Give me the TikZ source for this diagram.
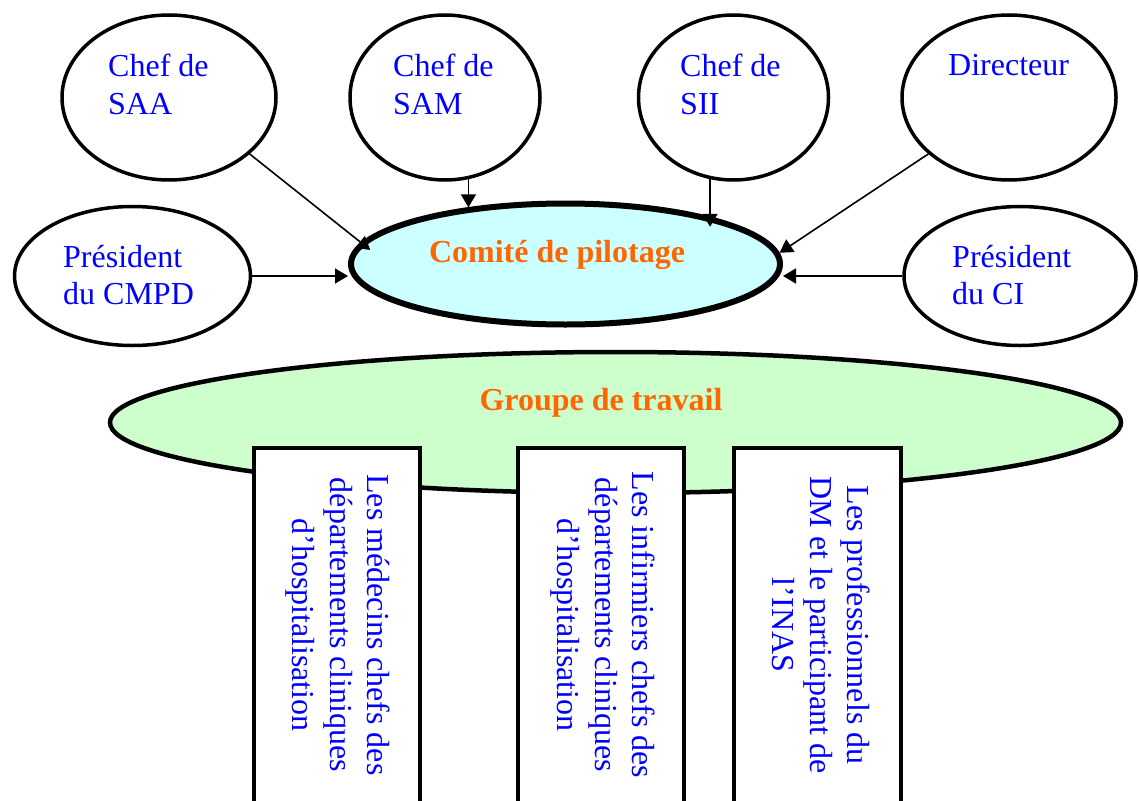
\documentclass[tikz,border=0pt]{standalone}
\usepackage{fontspec}
\setmainfont{Liberation Serif}
\usetikzlibrary{shapes.geometric,arrows.meta}
\definecolor{txtblue}{RGB}{0,0,255}
\definecolor{headorange}{RGB}{255,102,0}
\definecolor{pilotfill}{RGB}{204,255,255}
\definecolor{groupfill}{RGB}{204,255,204}
\begin{document}
\begin{tikzpicture}[x=1pt,y=-1pt,
  member/.style={ellipse, draw, line width=3.5pt, fill=white, inner sep=0pt},
  roletext/.style={text=txtblue, font=\fontsize{32}{37.5}\selectfont,
    align=left, inner sep=0pt, anchor=north west},
  boxtext/.style={text=txtblue, font=\fontsize{32}{37.5}\selectfont,
    align=center, inner sep=0pt, rotate=-90},
  headtext/.style={text=headorange, font=\bfseries\fontsize{32}{37.5}\selectfont,
    inner sep=0pt, anchor=base},
  team/.style={draw, line width=4pt, fill=white, inner sep=0pt, anchor=north},
  feed/.style={line width=1.6pt, -{Triangle[length=13pt,width=15pt]}}
]
\useasboundingbox (0,0) rectangle (1139,800);
\clip (0,0) rectangle (1139,800);

% working group and its three teams
\node[ellipse, draw, line width=4.5pt, fill=groupfill, inner sep=0pt,
      minimum width=1011pt, minimum height=141pt] (grp) at (615.5,422.5) {};
\node[headtext] (grptxt) at (601,410) {Groupe de travail};

\node[team, minimum width=166pt, minimum height=400pt] (b1) at (337,446) {};
\node[team, minimum width=166pt, minimum height=400pt] (b2) at (601,446) {};
\node[team, minimum width=167pt, minimum height=400pt] (b3) at (817.5,446) {};
\node[boxtext] (b1txt) at (338,625) {Les médecins chefs des\\départements cliniques\\d’hospitalisation};
\node[boxtext] (b2txt) at (603,625) {Les infirmiers chefs des\\départements cliniques\\d’hospitalisation};
\node[boxtext] (b3txt) at (821.5,625) {Les professionnels du\\DM et le participant de\\l’INAS};

% steering committee
\node[ellipse, draw, line width=6pt, fill=pilotfill, inner sep=0pt,
      minimum width=429pt, minimum height=121pt] (com) at (565.5,264) {};
\node[headtext] (comtxt) at (557,262) {Comité de pilotage};

% members
\node[member, minimum width=214pt, minimum height=165pt] (saa) at (169,97.5) {};
\node[member, minimum width=190pt, minimum height=165pt] (sam) at (445,97.5) {};
\node[member, minimum width=190pt, minimum height=165pt] (sii) at (733.5,97.5) {};
\node[member, minimum width=214pt, minimum height=165pt] (dir) at (1009,97.5) {};
\node[member, minimum width=236pt, minimum height=139pt] (cmpd) at (132.5,276) {};
\node[member, minimum width=232pt, minimum height=139pt] (ci) at (1020,276) {};

\node[roletext] (saatxt) at (108,54) {Chef de\\SAA};
\node[roletext] (samtxt) at (393,54) {Chef de\\SAM};
\node[roletext] (siitxt) at (680,54) {Chef de\\SII};
\node[roletext] (dirtxt) at (948,54) {Directeur};
\node[roletext] (cmpdtxt) at (63,245) {Président\\du CMPD};
\node[roletext] (citxt) at (952,245) {Président\\du CI};

% links to the committee
\draw[feed, shorten >=-12pt] (saa.-35) -- (com.174);
\draw[feed] (sam.-74) -- (sam.-74 |- com.150);
\draw[feed, shorten >=-10pt] (sii.-106) -- (sii.-106 |- com.18);
\draw[feed] (dir.-145) -- (com.3);
\draw[feed] (cmpd.east) -- (cmpd.east -| com.west);
\draw[feed] (ci.west) -- (ci.west -| com.east);
\end{tikzpicture}
\end{document}
